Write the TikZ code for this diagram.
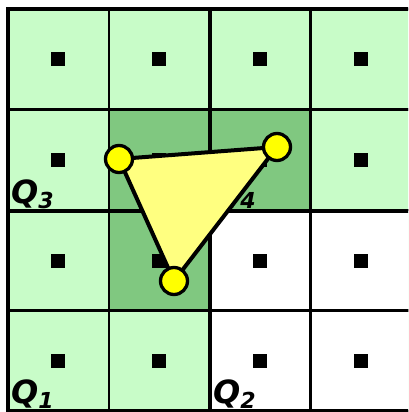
\documentclass[tikz,border=0pt]{standalone}
\usepackage{fontspec}
\newfontfamily\qfont{DejaVu Sans}
\usetikzlibrary{
  positioning,
  calc
}
\definecolor{qLight}{HTML}{C8FCC8}
\definecolor{qDark}{HTML}{80C880}
\definecolor{qTri}{HTML}{FFFF80}
\definecolor{qVert}{HTML}{FFFF00}
\newcommand{\qsub}[1]{\raisebox{-5pt}{\fontsize{22}{22}\selectfont #1}}
\tikzset{
  cell/.style={draw, line width=2.3pt, fill=qLight},
  darkcell/.style={cell, fill=qDark},
  emptycell/.style={cell, fill=white},
  probe/.style={fill=black, minimum size=14pt, inner sep=0pt},
  divider/.style={line width=3.8pt},
  frame/.style={line width=4.5pt},
  tri/.style={draw, line width=4pt, fill=qTri, line join=round},
  vert/.style={circle, draw, line width=3.3pt, fill=qVert, minimum size=27pt, inner sep=0pt},
  qlabel/.style={font=\qfont\bfseries\itshape\fontsize{32}{32}\selectfont, inner sep=0pt, anchor=base west}
}

\begin{document}
\begin{tikzpicture}[x=1pt, y=-1pt]
  \useasboundingbox (0,0) rectangle (408,412);
  \clip (0,0) rectangle (408,412);
  % cells
  \foreach \c in {0,...,3}
    \foreach \r in {0,...,3}
      \path[cell] ({8+100.8*\c},{9+100.5*\r}) rectangle ++(100.8,100.5);
  \foreach \c/\r in {1/1,2/1,1/2}
    \path[darkcell] ({8+100.8*\c},{9+100.5*\r}) rectangle ++(100.8,100.5);
  \foreach \c/\r in {2/2,3/2,2/3,3/3}
    \path[emptycell] ({8+100.8*\c},{9+100.5*\r}) rectangle ++(100.8,100.5);
  % quadrant lines
  \draw[divider] (210,9) -- (210,411);
  \draw[divider] (8,211) -- (412,211);
  \draw[frame] (412,9) -- (8,9) -- (8,411) -- (412,411);
  % sample points
  \foreach \c in {0,...,3}
    \foreach \r in {0,...,3}
      \node[probe] (p\c\r) at ({58.4+100.8*\c},{59.5+100.5*\r}) {};
  % quadrant names
  \node[qlabel] (q3) at (11,203) {Q\qsub{3}};
  \node[qlabel] (q4) at (213,203) {Q\qsub{4}};
  \node[qlabel] (q1) at (11,403) {Q\qsub{1}};
  \node[qlabel] (q2) at (213,403) {Q\qsub{2}};
  % triangle
  \coordinate (a) at (119,159);
  \coordinate (b) at (277,147);
  \coordinate (c) at (174,281);
  \draw[tri] (a) -- (b) -- (c) -- cycle;
  \node[vert] (va) at (a) {};
  \node[vert] (vb) at (b) {};
  \node[vert] (vc) at (c) {};
\end{tikzpicture}
\end{document}
